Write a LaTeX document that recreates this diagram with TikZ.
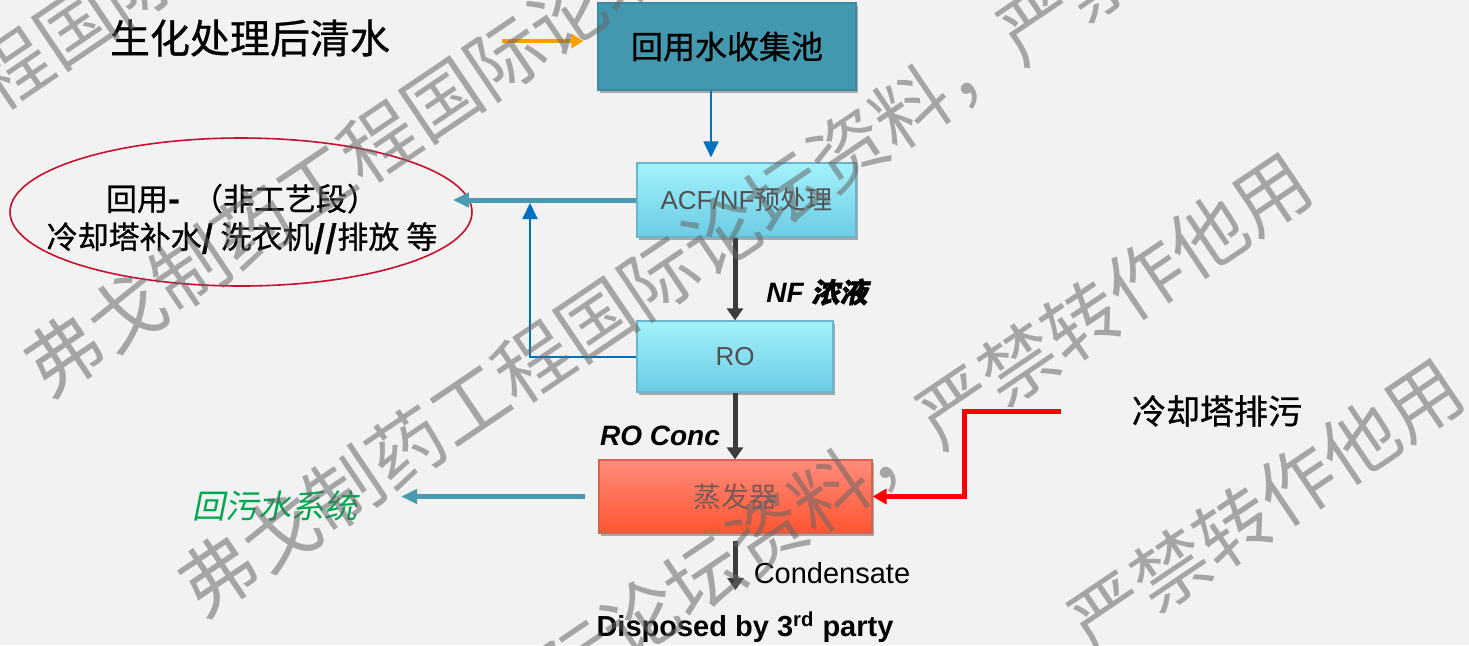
\documentclass[tikz,border=0pt]{standalone}
\usepackage{fontspec}
\setmainfont{Liberation Sans}
\newfontfamily\cjk{Noto Sans CJK SC}
\newfontfamily\cjkb[FakeBold=0.8]{Noto Sans CJK SC}
\newfontfamily\cjksl[FakeSlant=0.2]{Noto Sans CJK SC}
\newfontfamily\cjkbsl[FakeSlant=0.2,FakeBold=1.5]{Noto Sans CJK SC}
\usetikzlibrary{arrows.meta,shapes.geometric,shadows}
\definecolor{bgc}{HTML}{F2F2F2}
\definecolor{poolc}{HTML}{4398B0}
\definecolor{poolb}{HTML}{3A8AA2}
\definecolor{cyantop}{HTML}{A2F2FC}
\definecolor{cyanbot}{HTML}{6CCBE4}
\definecolor{cyanb}{HTML}{6AB4CC}
\definecolor{evtop}{HTML}{FF8C7C}
\definecolor{evbot}{HTML}{FF5530}
\definecolor{evb}{HTML}{D9624F}
\definecolor{tealc}{HTML}{4A9BB2}
\definecolor{bluec}{HTML}{0070C0}
\definecolor{darkc}{HTML}{3C3C3C}
\definecolor{redc}{HTML}{FF0000}
\definecolor{orangec}{HTML}{F5A000}
\definecolor{ellc}{HTML}{C8102E}
\definecolor{greenc}{HTML}{00A650}
\definecolor{boxtext}{HTML}{505050}
\definecolor{evtext}{HTML}{7A5A58}
\begin{document}
\begin{tikzpicture}[x=0.5pt,y=-0.5pt,
  shad/.style={drop shadow={shadow xshift=0.8pt,shadow yshift=-1.5pt,opacity=0.3,fill=black}},
  pbox/.style={draw=poolb, line width=0.6pt, fill=poolc, inner sep=0pt, shad,
    minimum width=129pt, minimum height=43.5pt, font=\cjkb\fontsize{16}{19}\selectfont},
  cbox/.style={draw=cyanb, line width=0.6pt, top color=cyantop, bottom color=cyanbot,
    inner sep=0pt, text=boxtext, font=\fontsize{13}{15}\selectfont, shad},
  ebox/.style={draw=evb, line width=0.6pt, top color=evtop, bottom color=evbot,
    inner sep=0pt, text=evtext, font=\cjk\fontsize{14}{16}\selectfont, shad,
    minimum width=136.5pt, minimum height=36.5pt},
  lbl/.style={inner sep=0pt},
  darr/.style={draw=darkc, line width=2.5pt, -{Triangle[width=8pt,length=6pt]}},
  tarr/.style={draw=tealc, line width=2.5pt, -{Triangle[width=7pt,length=8pt]}},
  barr/.style={draw=bluec, line width=1pt, -{Triangle[width=7.5pt,length=8pt]}},
  rarr/.style={draw=redc, line width=2.5pt, -{Triangle[width=7.5pt,length=7pt]}},
  oarr/.style={draw=orangec, line width=2.2pt, -{Triangle[width=7pt,length=6pt]}},
  wm/.style={inner sep=0pt, rotate=34, text=black!60, text opacity=0.55,
    font=\cjk\fontsize{38}{40}\selectfont}
]
\useasboundingbox (0,0) rectangle (1469,645);
\fill[bgc] (0,0) rectangle (1469,645);

% nodes
\node[lbl, font=\cjkb\fontsize{20}{24}\selectfont] (src) at (250,38) {生化处理后清水};
\node[pbox] (pool) at (727,46.5) {回用水收集池};
\node[cbox, minimum width=109.5pt, minimum height=37pt] (acf) at (746.5,200) {ACF/NF{\cjk 预处理}};
\node[cbox, minimum width=98pt, minimum height=35.5pt] (ro) at (735,356.5) {RO};
\node[ebox] (evap) at (735.5,496.5) {蒸发器};
\node[ellipse, draw=ellc, line width=0.8pt, minimum width=231pt, minimum height=74pt, inner sep=0pt] (ell) at (241,212) {};
\node[lbl, align=center, font=\cjkb\fontsize{15.5}{19}\selectfont] (elltext) at (242,219)
  {回用\textbf{-} \,（非工艺段）\\冷却塔补水\textbf{\textit{/}} 洗衣机\textbf{\textit{//}}排放 等};
\node[lbl, font=\fontsize{14}{16}\selectfont\bfseries\itshape] (nf) at (817,292) {NF {\cjkbsl 浓液}};
\node[lbl, font=\fontsize{14}{16}\selectfont\bfseries\itshape] (roc) at (660,436) {RO Conc};
\node[lbl, text=greenc, font=\cjksl\fontsize{16.5}{19}\selectfont] (sewer) at (275,506) {回污水系统};
\node[lbl, font=\cjkb\fontsize{17}{20}\selectfont] (cool) at (1217,411) {冷却塔排污};
\node[lbl, font=\fontsize{14.5}{17}\selectfont] (cond) at (832,573) {Condensate};
\node[lbl, font=\fontsize{14.5}{17}\selectfont\bfseries] (disp) at (745,627) {Disposed by 3\textsuperscript{rd} party};

% free ends
\coordinate (oin) at (502,41);
\coordinate (fb) at (530,203);
\coordinate (sw) at (401,496.5);
\coordinate (rin) at (1061,411);
\coordinate (rk) at (964,411);
\coordinate (cd) at (735.5,590);

% connectors
\draw[oarr, shorten >=7pt] (oin) -- (pool.west |- oin);
\draw[barr, shorten >=2.5pt] ([xshift=-8pt]pool.south) -- ([xshift=-8pt]pool.south |- acf.north);
\draw[tarr, shorten >=-10pt] (acf.west) -- (ell.east |- acf.west);
\draw[barr] (ro.west) -| (fb);
\draw[darr] (acf.south -| ro.north) -- (ro.north);
\draw[darr] (ro.south) -- (ro.south |- evap.north);
\draw[tarr, shorten <=6.5pt] (evap.west) -- (sw);
\draw[rarr] (rin) -- (rk) |- (evap.east);
\draw[darr, shorten <=3.5pt] (evap.south) -- (cd);

% watermark
\node[wm] (wm1) at (264,-100) {弗戈制药工程国际论坛资料，严禁转作他用};
\node[wm] (wm2) at (631,-27) {弗戈制药工程国际论坛资料，严禁转作他用};
\node[wm] (wm3) at (785,193) {弗戈制药工程国际论坛资料，严禁转作他用};
\node[wm] (wm4) at (704,577) {弗戈制药工程国际论坛资料，严禁转作他用};
\node[wm] (wm5) at (856,783) {弗戈制药工程国际论坛资料，严禁转作他用};
\end{tikzpicture}
\end{document}
